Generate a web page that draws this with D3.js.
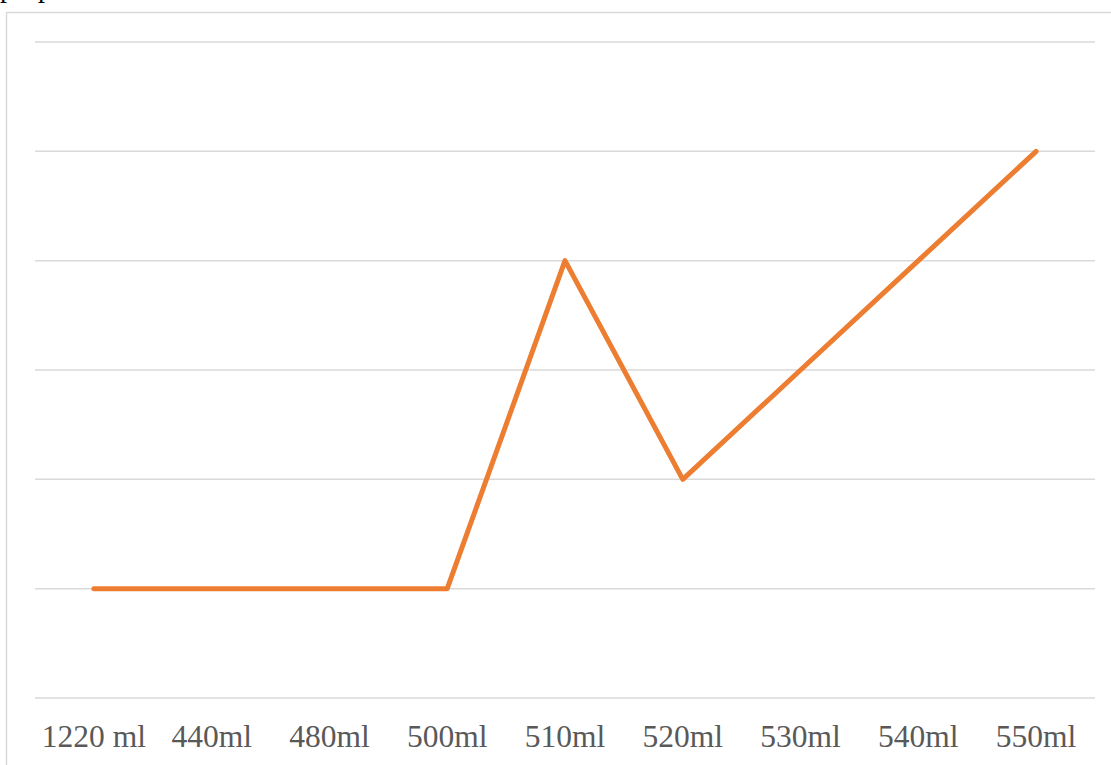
<!DOCTYPE html>
<html><head><meta charset="utf-8">
<script src="https://cdn.jsdelivr.net/npm/d3@7"></script>
<style>html,body{margin:0;padding:0;background:#fff;overflow:hidden}</style>
</head><body>
<svg id="c" width="1111" height="765"></svg>
<script>
const categories = ["1220 ml","440ml","480ml","500ml","510ml","520ml","530ml","540ml","550ml"];
const values = [1,1,1,1,4,2,3,4,5];
const yTicks = [0,1,2,3,4,5,6];

const svg = d3.select("#c");
const plot = {left:35, right:1095, top:42, bottom:698};

// clipped heading text above the chart
svg.append("text").attr("x",0).attr("y",-3).attr("font-family","Liberation Serif").attr("font-size",28).attr("fill","#000").text("p");
svg.append("text").attr("x",38).attr("y",-3).attr("font-family","Liberation Serif").attr("font-size",28).attr("fill","#000").text("p");

// chart border
svg.append("rect").attr("x",6.5).attr("y",12.5).attr("width",1200).attr("height",800)
  .attr("fill","none").attr("stroke","#d9d9d9").attr("stroke-width",1.5);

const x = d3.scaleBand().domain(categories).range([plot.left, plot.right]);
const y = d3.scaleLinear().domain([0,6]).range([plot.bottom, plot.top]);

svg.append("g").selectAll("line").data(yTicks).join("line")
  .attr("x1",plot.left).attr("x2",plot.right)
  .attr("y1",d=>y(d)).attr("y2",d=>y(d))
  .attr("stroke","#d9d9d9").attr("stroke-width",1.5);

const xAxis = svg.append("g").attr("transform",`translate(0,${plot.bottom})`)
  .call(d3.axisBottom(x).tickSize(0).tickPadding(0));
xAxis.select(".domain").remove();
xAxis.selectAll("text").attr("font-family","Liberation Serif").attr("font-size",31.5)
  .attr("fill","#595959").attr("dy",0).attr("y",49);

const line = d3.line().x((d,i)=>x(categories[i])+x.bandwidth()/2).y(d=>y(d));
svg.append("path").datum(values).attr("d",line).attr("fill","none")
  .attr("stroke","#ED7D31").attr("stroke-width",5).attr("stroke-linecap","round").attr("stroke-linejoin","round");
</script>
</body></html>
